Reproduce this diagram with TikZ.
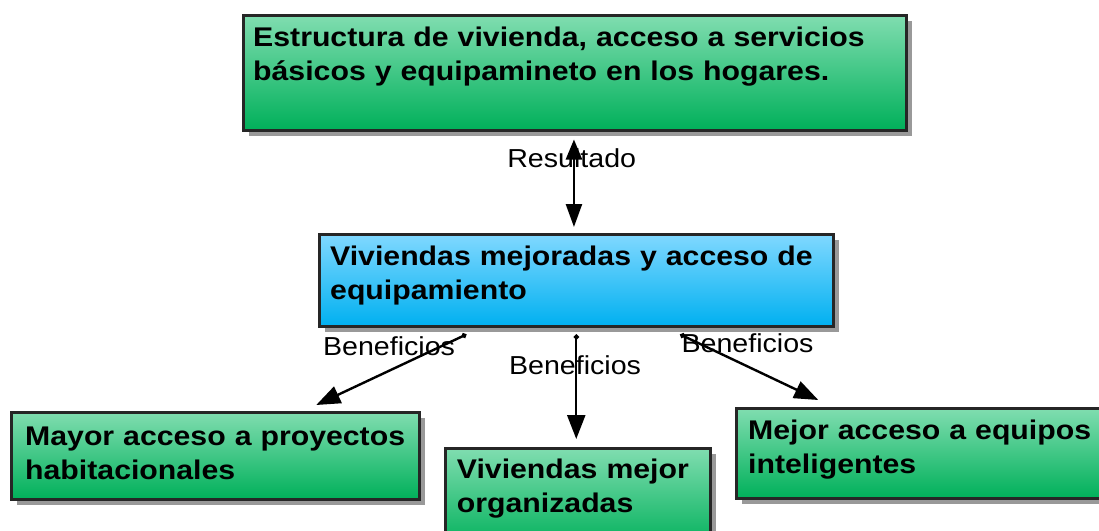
\documentclass[tikz,border=0pt]{standalone}
\usepackage{fontspec}
\setmainfont{Liberation Sans}
\newfontfamily\boxfont{Liberation Sans}[FakeStretch=1.12]
\newfontfamily\lblfont{Liberation Sans}[FakeStretch=1.1]
\usetikzlibrary{arrows.meta,shadows}
\definecolor{mintlight}{RGB}{128,221,176}
\definecolor{mintdark}{RGB}{0,176,90}
\definecolor{skylight}{RGB}{128,216,255}
\definecolor{skydark}{RGB}{0,176,240}

\begin{document}
\begin{tikzpicture}[x=1pt,y=-1pt,
  card/.style={draw=black!85,line width=2.5pt,anchor=north west,inner sep=0pt,
    drop shadow={shadow xshift=6pt,shadow yshift=-6pt,fill=black!80,opacity=0.5}},
  greencard/.style={card,top color=mintlight,bottom color=mintdark},
  bluecard/.style={card,top color=skylight,bottom color=skydark},
  cardtext/.style={anchor=base west,inner sep=0pt,text width=700pt,align=left,
    font=\boxfont\bfseries\fontsize{27}{34}\selectfont},
  relname/.style={anchor=base,inner sep=0pt,font=\lblfont\fontsize{26}{30}\selectfont},
  link/.style={line width=2.4pt,black},
  benefit/.style={link,{Circle[length=5pt]}-{Triangle[length=24pt,width=18pt]}}]
\useasboundingbox (0,0) rectangle (1099,530);
% boxes
\node[greencard,minimum width=663pt,minimum height=115pt] (hogares) at (242,14) {};
\node[bluecard,minimum width=514pt,minimum height=92pt] (mejoras) at (318,233) {};
\node[greencard,minimum width=408pt,minimum height=87pt] (proyectos) at (10,411) {};
\node[greencard,minimum width=265pt,minimum height=100pt] (organiz) at (444,447) {};
\node[greencard,minimum width=380pt,minimum height=90pt] (equipos) at (735,407) {};
\node[cardtext] (thogares) at (253,46) {Estructura de vivienda, acceso a servicios\\b\'asicos y equipamineto en los hogares.};
\node[cardtext] (tmejoras) at (330,265.3) {Viviendas mejoradas y acceso de\\equipamiento};
\node[cardtext] (tproyectos) at (25,445) {Mayor acceso a proyectos\\habitacionales};
\node[cardtext] (torganiz) at (456.7,478.3) {Viviendas mejor\\organizadas};
\node[cardtext] (tequipos) at (748,439) {Mejor acceso a equipos\\inteligentes};
% labels
\node[relname] (lres) at (571.7,167.3) {Resultado};
\node[relname] (lben1) at (389,355) {Beneficios};
\node[relname] (lben2) at (575,374.3) {Beneficios};
\node[relname] (lben3) at (747.5,352.5) {Beneficios};
% arrows
\draw[link,{Triangle[length=20pt,width=16pt]}-{Triangle[length=23pt,width=16pt]}]
  ([shift={(-0.8,8)}]hogares.south) -- ([shift={(-2.3,-6)}]mejoras.north);
\draw[benefit] ([shift={(-110,7)}]mejoras.south) -- ([shift={(101,-6)}]proyectos.north);
\draw[benefit] ([shift={(0,7)}]mejoras.south) -- ([shift={(-1.5,-8)}]organiz.north);
\draw[benefit] ([shift={(104,7)}]mejoras.south) -- ([shift={(-108,-7)}]equipos.north);
\end{tikzpicture}
\end{document}
